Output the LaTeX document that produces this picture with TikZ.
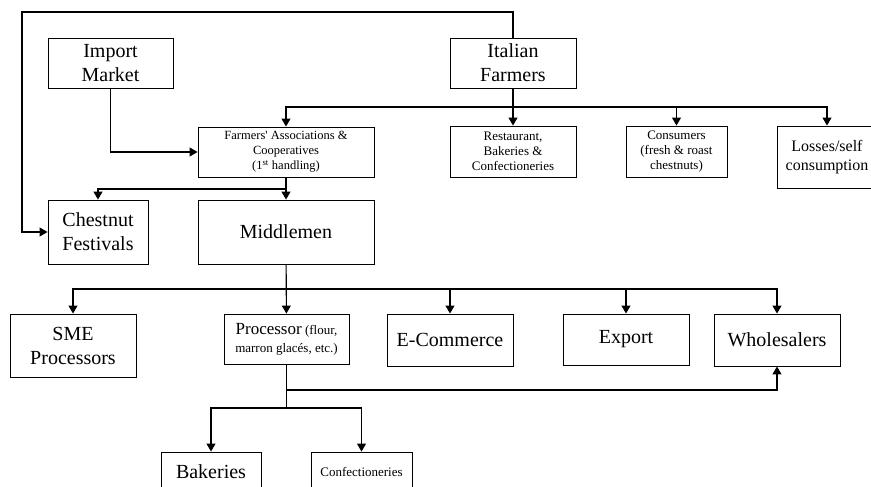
\documentclass[tikz,border=0pt]{standalone}
\usepackage{fontspec}
\setmainfont{Liberation Serif}
\usetikzlibrary{arrows.meta}

\begin{document}
\begin{tikzpicture}[x=1pt,y=-1pt,
        box/.style={draw,line width=0.9pt,inner sep=0pt,align=center,font=\fontsize{20}{24}\selectfont},
        small/.style={font=\fontsize{13}{15}\selectfont},
        arr/.style={-{Triangle[length=8pt,width=9pt]},line width=1.1pt},
        link/.style={line width=1.1pt}]
        \useasboundingbox (0,0) rectangle (871,487);
        \clip (0,0) rectangle (871,487);
        \def\fbus{107} % bus below the farmers
        \def\abus{189}
        \def\mbus{289}
        \def\pbus{390}
        \def\qbus{408}

        % boxes
        \node[box,minimum width=125,minimum height=50] (import) at (110.5,63) {Import\\Market};
        \node[box,minimum width=126,minimum height=50] (italian) at (513,63) {Italian\\Farmers};
        \node[box,font=\fontsize{12.5}{15}\selectfont,minimum width=176,minimum height=50] (farm) at (286,152) {Farmers\textquotesingle{} Associations \&\\Cooperatives\\(1\textsuperscript{st} handling)};
        \node[box,small,minimum width=126,minimum height=51] (rest) at (513,151.5) {Restaurant,\\Bakeries \&\\Confectioneries};
        \node[box,small,minimum width=101,minimum height=51] (cons) at (676.5,151.5) {Consumers\\(fresh \& roast\\chestnuts)};
        \node[box,font=\fontsize{16}{19}\selectfont,minimum width=100,minimum height=62] (loss) at (827,157) {Losses/self\\consumption};
        \node[box,minimum width=100,minimum height=64] (chestnut) at (98,232) {Chestnut\\Festivals};
        \node[box,minimum width=176,minimum height=64] (middle) at (286,232) {Middlemen};
        \node[box,font=\fontsize{13}{18}\selectfont,minimum width=125,minimum height=50] (proc) at (286.5,339) {{\fontsize{17}{18}\selectfont Processor} (flour,\\marron glacés, etc.)};
        \node[box,minimum width=126,minimum height=63] (sme) at (73,345.5) {SME\\Processors};
        \node[box,minimum width=126,minimum height=52] (ecom) at (450,340) {E-Commerce};
        \node[box,minimum width=126,minimum height=51] (export) at (626,339.5) {Export};
        \node[box,minimum width=126,minimum height=52] (whole) at (777,340) {Wholesalers};
        \node[box,minimum width=100,minimum height=40] (bak) at (211,472) {Bakeries};
        \node[box,small,minimum width=101,minimum height=40] (conf) at (361.5,472) {Confectioneries};

        \coordinate (corner) at (22,12);

        % connectors
        \draw[arr] (italian.north) |- (corner) |- (chestnut.west);
        \draw[arr] (import.south) |- (farm.west);
        \draw[arr] (italian) -- (rest);
        \draw[arr] (italian.south |- 0,\fbus) -| (farm.north);
        \draw[arr] (italian.south |- 0,\fbus) -| (cons.north);
        \draw[arr] (italian.south |- 0,\fbus) -| (loss.north);
        \draw[arr] (farm) -- (middle);
        \draw[arr] (farm.south |- 0,\abus) -| (chestnut.north);
        \draw[arr] (middle) -- (proc);
        \foreach \n in {sme,ecom,export,whole}
                \draw[arr] (middle.south |- 0,\mbus) -| (\n.north);
        \draw[link] (proc.south) -- (proc.south |- 0,\qbus);
        \draw[arr] (proc.south |- 0,\pbus) -| (whole.south);
        \draw[arr] (proc.south |- 0,\qbus) -| (bak.north);
        \draw[arr] (proc.south |- 0,\qbus) -| (conf.north);
\end{tikzpicture}
\end{document}
